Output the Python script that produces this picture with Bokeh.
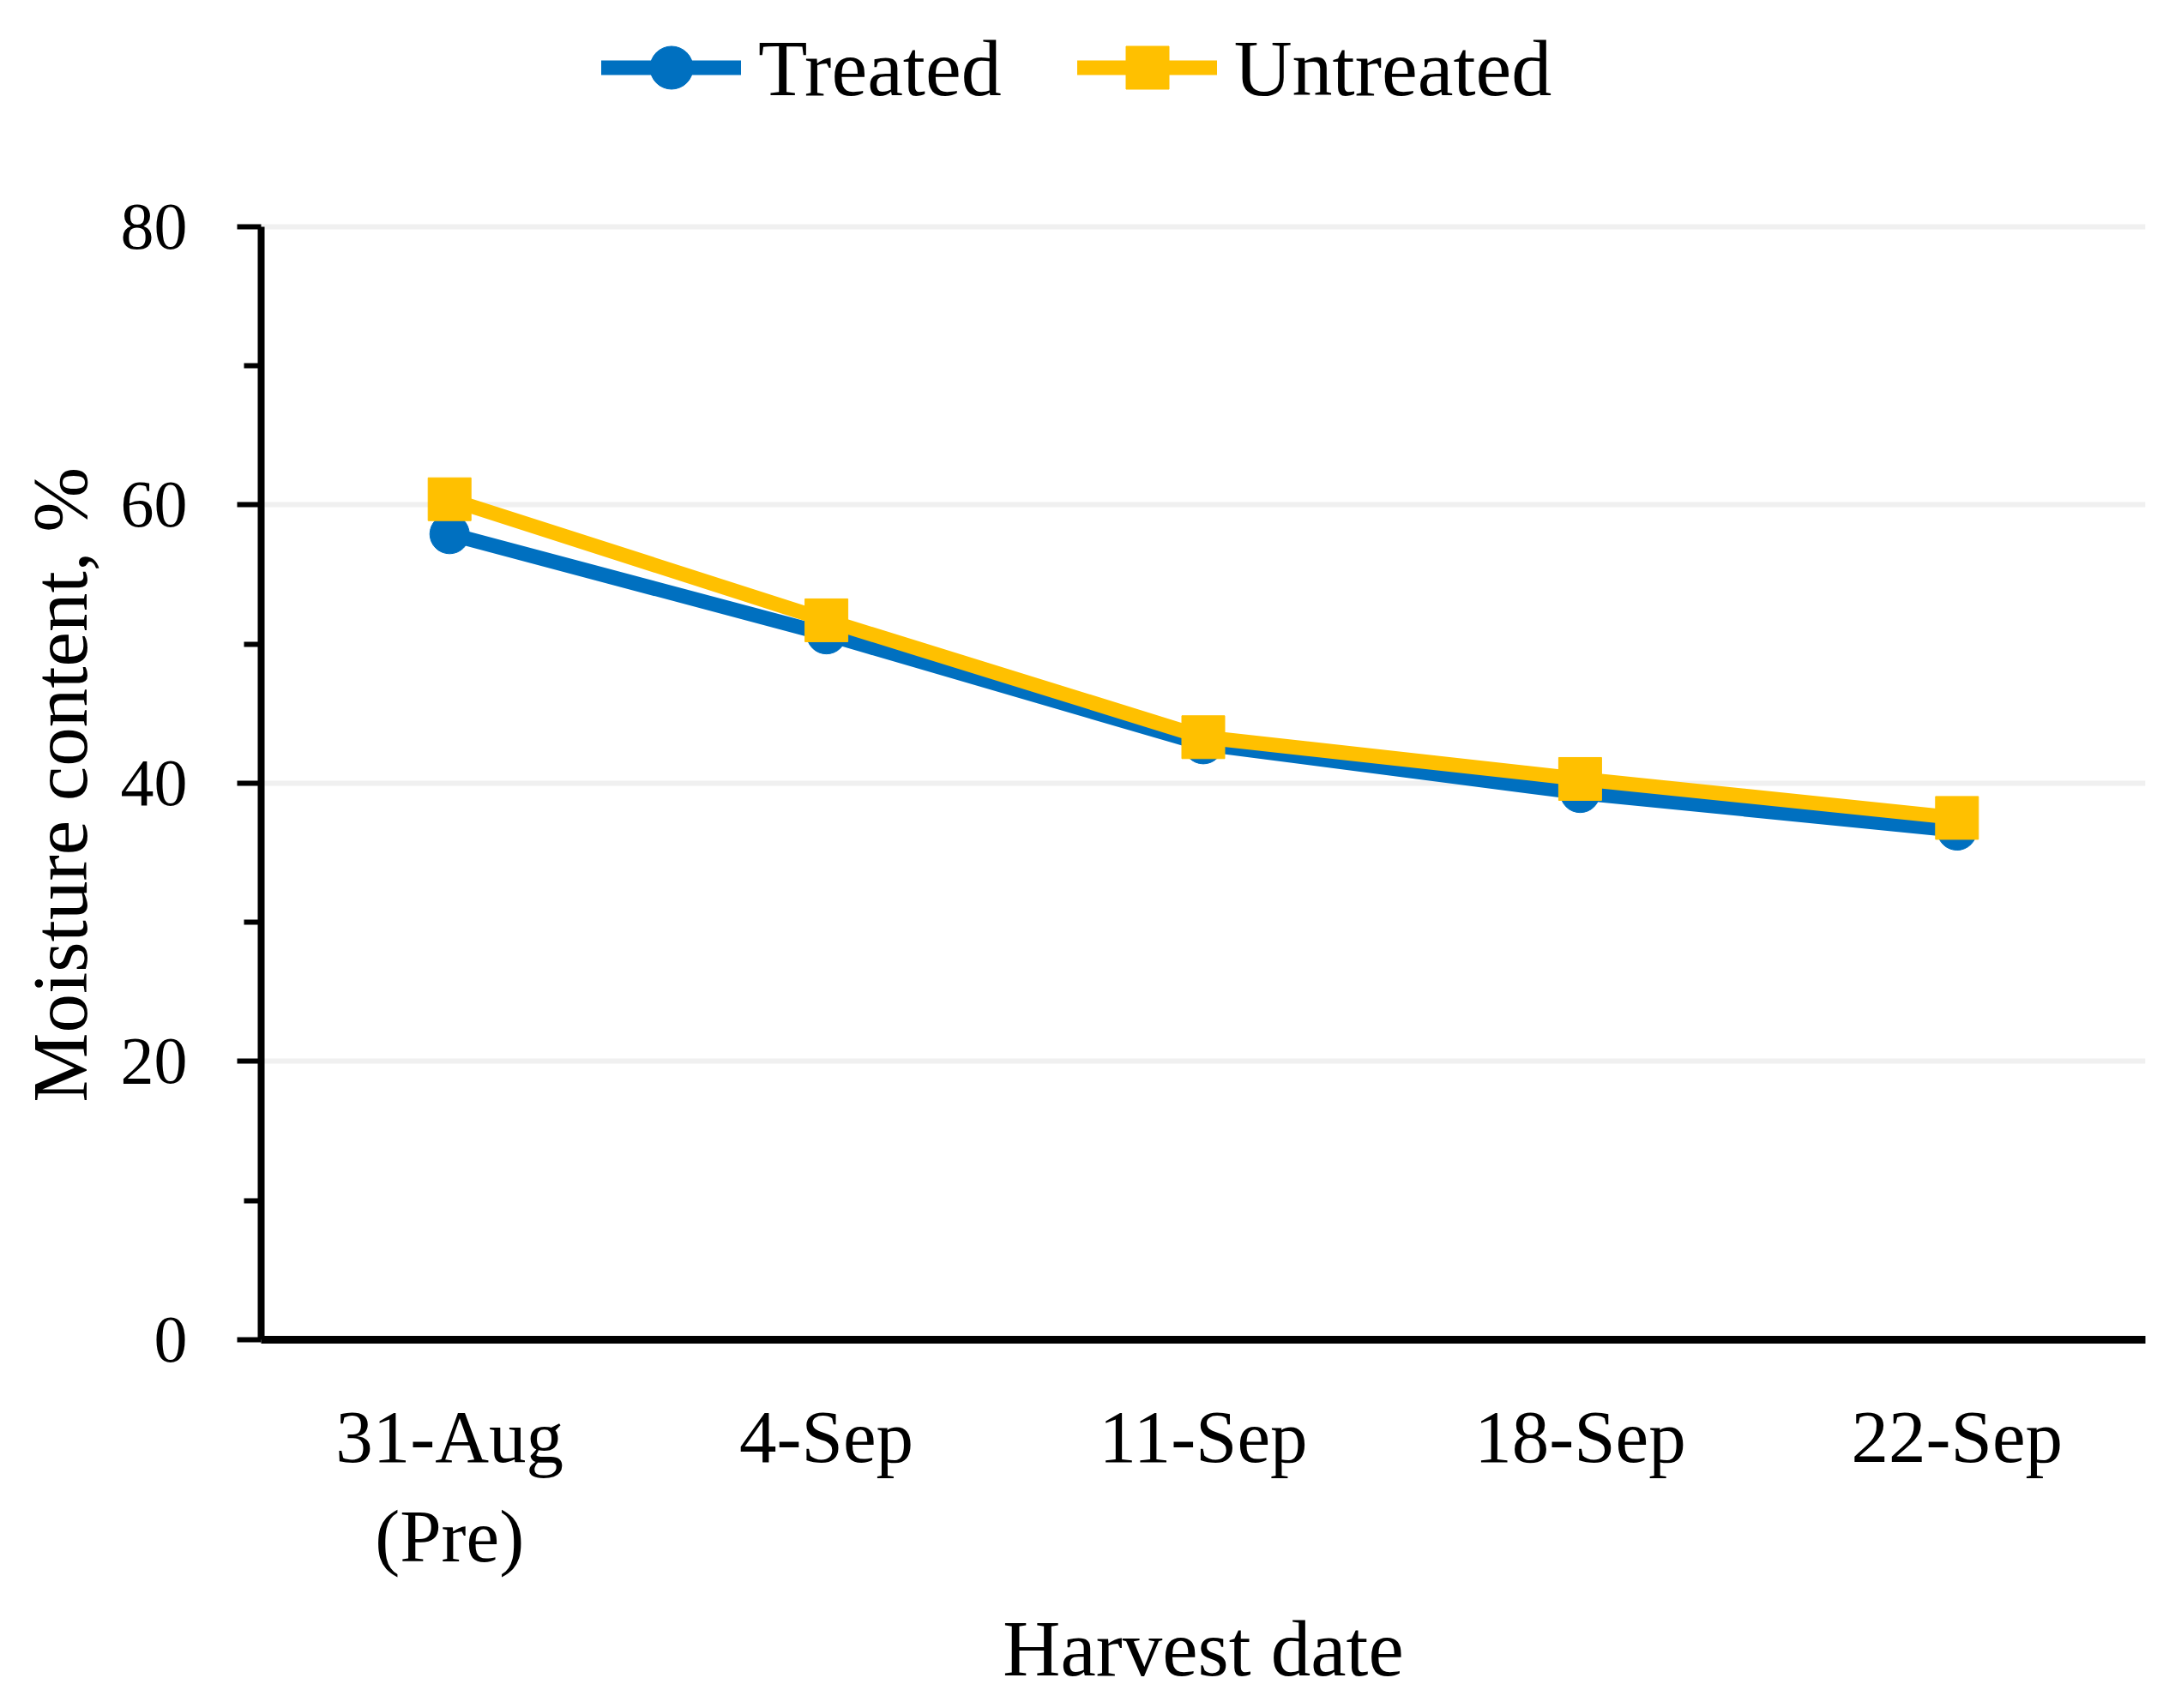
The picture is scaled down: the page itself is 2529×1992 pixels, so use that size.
from bokeh.plotting import figure
from bokeh.models import FixedTicker, Legend, LegendItem, ColumnDataSource, Range1d, Title
from bokeh.embed import file_html
from bokeh.resources import INLINE

# ---- data ----
dates = ["31-Aug\n(Pre)", "4-Sep", "11-Sep", "18-Sep", "22-Sep"]
treated = [57.9, 50.7, 42.8, 39.3, 36.6]
untreated = [60.4, 51.7, 43.3, 40.3, 37.5]
y_ticks = [0, 20, 40, 60, 80]
y_minor = [10, 30, 50, 70]

BLUE = "#0070C0"
GOLD = "#FFC000"
FONT = "Liberation Serif"

# layout: frame reaches the top of the figure so the legend can sit above y=80
H = 1976
BOTTOM = 406
TOP80 = 265
frame_h = H - BOTTOM
y_top = 80 * frame_h / (frame_h - TOP80)

src = ColumnDataSource(dict(d=dates, t=treated, u=untreated))

p = figure(width=2512, height=H, x_range=dates, y_range=Range1d(0, y_top),
           output_backend="svg", toolbar_location=None,
           min_border_left=301, min_border_right=11,
           min_border_top=0, min_border_bottom=BOTTOM)
p.outline_line_color = None
p.background_fill_color = "white"

r1 = p.line(x="d", y="t", source=src, line_color=BLUE, line_width=17, line_cap="round")
s1 = p.scatter(x="d", y="t", source=src, marker="circle", size=46,
               fill_color=BLUE, line_color=BLUE)
r2 = p.line(x="d", y="u", source=src, line_color=GOLD, line_width=17, line_cap="round")
s2 = p.scatter(x="d", y="u", source=src, marker="square", size=50,
               fill_color=GOLD, line_color=GOLD)

# grid
p.xgrid.visible = False
p.ygrid.ticker = FixedTicker(ticks=[20, 40, 60, 80])
p.ygrid.grid_line_color = "#F0F0F0"
p.ygrid.grid_line_width = 6

# y axis
ya = p.yaxis[0]
ya.bounds = (0, 80)
ya.ticker = FixedTicker(ticks=y_ticks, minor_ticks=y_minor)
ya.axis_line_width = 8
ya.axis_line_color = "black"
ya.major_tick_line_width = 6
ya.minor_tick_line_width = 6
ya.major_tick_out = 28
ya.major_tick_in = 0
ya.minor_tick_out = 20
ya.minor_tick_in = 0
ya.major_label_text_font = FONT
ya.major_label_text_font_size = "78px"
ya.major_label_text_color = "black"
ya.major_label_standoff = 58

# y axis title, placed along the 0-80 part of the axis
ytitle = Title(text="Moisture content, %", align="left",
               offset=277, standoff=34,
               text_font=FONT, text_font_size="91px", text_font_style="normal",
               text_color="black")
p.add_layout(ytitle, "left")

# x axis
xa = p.xaxis[0]
xa.axis_line_width = 9
xa.axis_line_color = "black"
xa.major_tick_out = 0
xa.major_tick_in = 0
xa.major_label_text_font = FONT
xa.major_label_text_font_size = "87px"
xa.major_label_text_color = "black"
xa.major_label_standoff = 64
xa.axis_label = "Harvest date"
xa.axis_label_text_font = FONT
xa.axis_label_text_font_size = "93px"
xa.axis_label_text_font_style = "normal"
xa.axis_label_text_color = "black"
xa.axis_label_standoff = 28

legend = Legend(items=[LegendItem(label="Treated", renderers=[r1, s1]),
                       LegendItem(label="Untreated", renderers=[r2, s2])],
                orientation="horizontal", location=(397, frame_h - 149),
                glyph_width=163, glyph_height=125, label_standoff=20,
                spacing=88, padding=0, margin=0,
                border_line_color=None, background_fill_alpha=0,
                label_text_font=FONT, label_text_font_size="94px",
                label_text_color="black")
p.add_layout(legend, "center")

open("out.html", "w").write(file_html(p, INLINE))
